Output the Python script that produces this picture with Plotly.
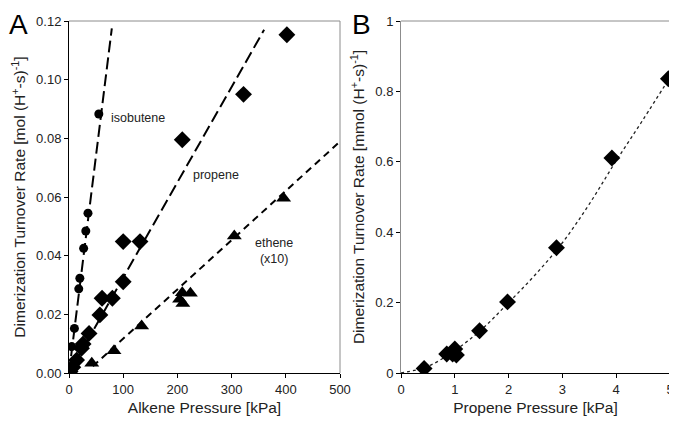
import plotly.graph_objects as go

# Panel A - alkene pressure [kPa] vs dimerization rate
isobutene_p = [2, 5, 10, 18, 20, 27, 31, 35, 55]
isobutene_r = [0.001, 0.009, 0.0152, 0.0287, 0.0323, 0.0425, 0.0484, 0.0545, 0.0883]
propene_p = [2, 7, 14, 23, 26, 37, 57, 61, 80, 100, 100, 131, 209, 322, 402]
propene_r = [0.0005, 0.002, 0.0044, 0.0084, 0.0099, 0.0135, 0.0198, 0.0255, 0.0255,
             0.0311, 0.0448, 0.0448, 0.0795, 0.095, 0.1153]
ethene_p = [42, 83, 134, 204, 209, 210, 224, 305, 396]
ethene_r = [0.0033, 0.0076, 0.016, 0.0251, 0.0274, 0.0237, 0.0272, 0.0467, 0.0596]

# fit lines (end points)
isobutene_fit_p = [0, 79]
isobutene_fit_r = [0, 0.1175]
propene_fit_p = [0, 360]
propene_fit_r = [0, 0.117]
ethene_fit_p = [44, 500]
ethene_fit_r = [0.0023, 0.0789]

# Panel B - propene pressure [kPa] vs rate [mmol]
propB_p = [0.43, 0.85, 0.96, 1.0, 1.03, 1.46, 1.98, 2.89, 3.92, 4.97]
propB_r = [0.013, 0.054, 0.054, 0.068, 0.051, 0.12, 0.202, 0.356, 0.611, 0.836]
propB_fit_p = [0, 0.5, 1, 1.5, 2, 2.5, 3, 3.5, 4, 4.5, 5]
propB_fit_r = [0, 0.019, 0.064, 0.124, 0.2, 0.28, 0.37, 0.48, 0.603, 0.72, 0.84]

FONT = "Liberation Sans, Arial, sans-serif"
GRAY = "#8c8c8c"

# page has an 8px body margin, so the figure is a bit smaller than the window
W, H, OFF = 669, 414, 8


def fx(px):
    return (px - OFF) / W


def fy(py):
    return 1 - (py - OFF) / H


fig = go.Figure()

# fit lines first so markers sit on top
fig.add_trace(go.Scatter(x=isobutene_fit_p, y=isobutene_fit_r, mode="lines",
                         line=dict(color="black", width=2, dash="12px,5px"), xaxis="x", yaxis="y"))
fig.add_trace(go.Scatter(x=propene_fit_p, y=propene_fit_r, mode="lines",
                         line=dict(color="black", width=2, dash="12px,5px"), xaxis="x", yaxis="y"))
fig.add_trace(go.Scatter(x=ethene_fit_p, y=ethene_fit_r, mode="lines",
                         line=dict(color="black", width=2, dash="7px,5px"), xaxis="x", yaxis="y"))

fig.add_trace(go.Scatter(x=isobutene_p, y=isobutene_r, mode="markers",
                         marker=dict(symbol="circle", size=9, color="black"), xaxis="x", yaxis="y"))
fig.add_trace(go.Scatter(x=propene_p, y=propene_r, mode="markers",
                         marker=dict(symbol="diamond", size=13, color="black"), xaxis="x", yaxis="y"))
fig.add_trace(go.Scatter(x=ethene_p, y=ethene_r, mode="markers",
                         marker=dict(symbol="triangle-up", size=13, color="black"), xaxis="x", yaxis="y"))

fig.add_trace(go.Scatter(x=propB_fit_p, y=propB_fit_r, mode="lines", line_shape="spline",
                         line=dict(color="#222", width=1.3, dash="3px,3px"), xaxis="x2", yaxis="y2"))
fig.add_trace(go.Scatter(x=propB_p, y=propB_r, mode="markers",
                         marker=dict(symbol="diamond", size=13, color="black"), xaxis="x2", yaxis="y2"))

ydom = [fy(373), fy(21)]
tickfont = dict(family=FONT, size=13, color="#222")
titlefont = dict(family=FONT, size=15.5, color="#222")
axcommon = dict(showgrid=False, zeroline=False, showline=True, linecolor="black", linewidth=1,
                ticks="outside", ticklen=4, tickcolor="black", tickfont=tickfont, automargin=False)

fig.update_layout(
    width=W, height=H, showlegend=False,
    plot_bgcolor="white", paper_bgcolor="white",
    margin=dict(l=0, r=0, t=0, b=0),
    xaxis=dict(domain=[fx(69), fx(340)], range=[0, 500], dtick=100, anchor="y",
               title=dict(text="Alkene Pressure [kPa]", font=titlefont, standoff=6), **axcommon),
    yaxis=dict(domain=ydom, range=[0, 0.12], dtick=0.02, tickformat=".2f", anchor="x",
               title=dict(text="Dimerization Turnover Rate [mol (H<sup>+</sup>-s)<sup>-1</sup>]",
                          font=titlefont, standoff=6), **axcommon),
    xaxis2=dict(domain=[fx(401), fx(670)], range=[0, 5], dtick=1, anchor="y2",
                title=dict(text="Propene Pressure [kPa]", font=titlefont, standoff=6), **axcommon),
    yaxis2=dict(domain=ydom, range=[0, 1], dtick=0.2, anchor="x2",
                title=dict(text="Dimerization Turnover Rate [mmol (H<sup>+</sup>-s)<sup>-1</sup>]",
                           font=titlefont, standoff=6), **axcommon),
)
fig.layout.yaxis2.linecolor = GRAY

# gray frame on top/right
for xr, yr in [("x domain", "y domain"), ("x2 domain", "y2 domain")]:
    fig.add_shape(type="line", xref=xr, yref=yr, x0=0, x1=1, y0=1, y1=1,
                  line=dict(color=GRAY, width=1))
    fig.add_shape(type="line", xref=xr, yref=yr, x0=1, x1=1, y0=0, y1=1,
                  line=dict(color=GRAY, width=1))

lab = dict(family=FONT, size=12.5, color="#222")
fig.add_annotation(x=127, y=0.087, xref="x", yref="y", text="isobutene", showarrow=False, font=lab)
fig.add_annotation(x=272, y=0.0675, xref="x", yref="y", text="propene", showarrow=False, font=lab)
fig.add_annotation(x=379, y=0.0415, xref="x", yref="y", text="ethene<br>(x10)", showarrow=False, font=lab)

fig.add_annotation(x=0.0, y=1.0, xref="paper", yref="paper", text="A", showarrow=False,
                   font=dict(family=FONT, size=28, color="black"), xanchor="left", yanchor="top",
                   borderpad=0)
fig.add_annotation(x=fx(351), y=1.0, xref="paper", yref="paper", text="B", showarrow=False,
                   font=dict(family=FONT, size=28, color="black"), xanchor="left", yanchor="top",
                   borderpad=0)

fig.write_html("out.html")
